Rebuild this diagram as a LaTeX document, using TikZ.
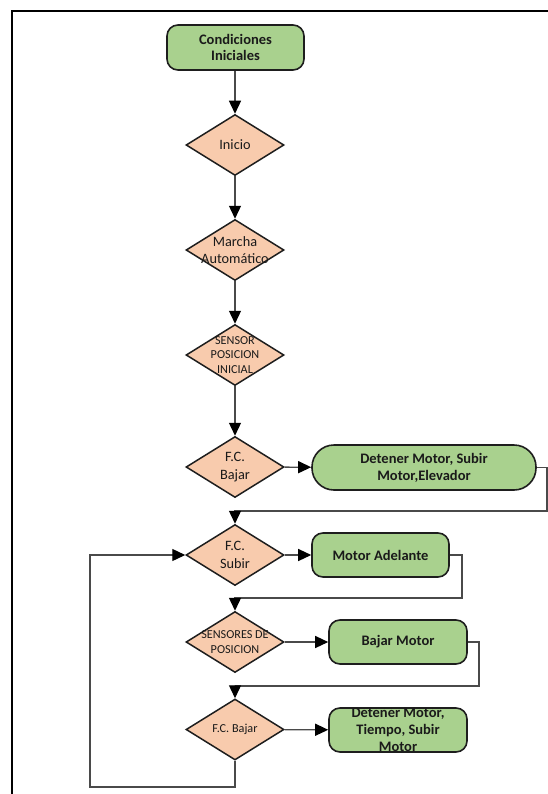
\documentclass[tikz,border=0pt]{standalone}
\usepackage{fontspec}
\setmainfont{Carlito}
\usetikzlibrary{shapes.geometric,arrows.meta}

\definecolor{procfill}{HTML}{A9D18E}
\definecolor{decfill}{HTML}{F8CBAD}
\definecolor{edgeline}{HTML}{1E1E1E}
\definecolor{connline}{HTML}{4A4A4A}
\definecolor{txt}{HTML}{1A1A1A}

\tikzset{
  process/.style={draw=edgeline, line width=1.6bp, fill=procfill, rounded corners=11bp,
    minimum width=137bp, minimum height=44bp, inner sep=2bp, align=center,
    text=txt, font=\fontsize{14.5bp}{16.8bp}\selectfont\bfseries},
  decision/.style={diamond, draw=edgeline, line width=1.5bp, fill=decfill,
    minimum width=98bp, minimum height=61bp, inner sep=0pt},
  dtext/.style={align=center, text=txt, inner sep=0pt, font=\fontsize{14.3bp}{17.5bp}\selectfont},
  dsmall/.style={align=center, text=txt, inner sep=0pt, font=\fontsize{12.2bp}{14.5bp}\selectfont},
  conn/.style={draw=connline, line width=1.3bp,
    -{Triangle[length=13bp,width=12bp,fill=black,color=black]}}
}

\begin{document}
\begin{tikzpicture}[x=1bp,y=-1bp]
  \useasboundingbox (0,0) rectangle (548,794);

  % outer frame (open towards the right and the bottom)
  \draw[line width=2bp, black] (12,796) -- (12,11) -- (550,11);

  % main column
  \node[process, minimum width=137bp, minimum height=45bp] (start) at (235.5,47.5) {Condiciones\\Iniciales};
  \node[decision, label={[dtext]center:Inicio}] (inicio) at (235,145) {};
  \node[decision, label={[dtext]center:{Marcha\\Automático}}] (marcha) at (235,250) {};
  \node[decision, label={[dsmall]center:{SENSOR\\POSICION\\INICIAL}}] (sensor) at (235,355) {};
  \node[decision, label={[dtext]center:{F.C.\\Bajar}}] (fcbajar) at (235,467) {};
  \node[decision, label={[dtext]center:{F.C.\\Subir}}] (fcsubir) at (235,555) {};
  \node[decision, label={[dsmall]center:{SENSORES DE\\POSICION}}] (sensores) at (235,642) {};
  \node[decision, label={[dsmall]center:{F.C. Bajar}}] (fcbajarb) at (235,729.5) {};

  % actions
  \node[process, rounded corners=22bp, minimum width=224bp, minimum height=45bp] (detener) at (424,467.5) {Detener Motor, Subir\\Motor,Elevador};
  \node[process] (adelante) at (380.5,555) {Motor Adelante};
  \node[process, minimum width=138bp] (bajar) at (398,642) {Bajar Motor};
  \node[process, minimum width=138bp,
    label={[align=center, text=txt, inner sep=0pt, font=\fontsize{14.5bp}{16.7bp}\selectfont\bfseries]center:{Detener Motor,\\Tiempo, Subir\\Motor}}] (detenerb) at (398,730) {};

  % bend points of the return lines
  \coordinate (r1) at (547,511);
  \coordinate (r2) at (462,598);
  \coordinate (r3) at (479,686);
  \coordinate (loop) at (90,787);

  % connectors
  \draw[conn] (start.south -| inicio.north) -- (inicio.north);
  \draw[conn] (inicio) -- (marcha);
  \draw[conn] (marcha) -- (sensor);
  \draw[conn] (sensor) -- (fcbajar);
  \draw[conn] (fcbajar) -- (detener);
  \draw[conn] (detener.east) -| (r1) -| (fcsubir.north);
  \draw[conn] (fcsubir) -- (adelante);
  \draw[conn] (adelante.east) -| (r2) -| (sensores.north);
  \draw[conn] (sensores) -- (bajar);
  \draw[conn] (bajar.east) -| (r3) -| (fcbajarb.north);
  \draw[conn] (fcbajarb) -- (detenerb);
  \draw[conn] (fcbajarb.south) |- (loop) |- (fcsubir.west);
\end{tikzpicture}
\end{document}
